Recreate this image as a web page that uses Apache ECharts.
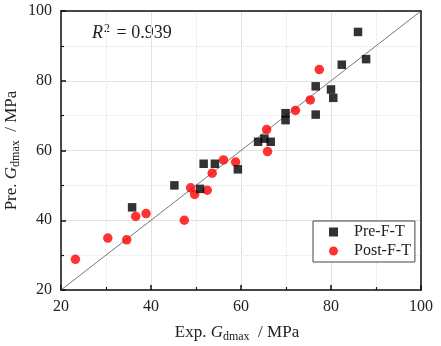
<!DOCTYPE html>
<html><head><meta charset="utf-8">
<script src="https://cdn.jsdelivr.net/npm/echarts@6/dist/echarts.min.js"></script>
<style>html,body{margin:0;padding:0;background:#fff}#c{width:441px;height:346px}</style>
</head><body><div id="c"></div>
<script>
const preX = [86.0, 87.8, 82.4, 76.6, 80.0, 80.5, 76.6, 69.9, 69.9, 63.8, 65.2, 66.6, 51.7, 54.2, 59.3, 45.2, 50.9, 35.8];
const preY = [94.0, 86.2, 84.6, 78.4, 77.5, 75.1, 70.3, 70.7, 68.7, 62.5, 63.4, 62.5, 56.2, 56.2, 54.6, 50.0, 49.0, 43.7];
const postX = [77.4, 75.4, 72.1, 65.7, 65.9, 56.1, 58.8, 53.6, 48.8, 49.7, 52.5, 47.4, 38.9, 36.6, 30.4, 34.6, 23.2];
const postY = [83.2, 74.5, 71.5, 66.0, 59.7, 57.3, 56.7, 53.5, 49.3, 47.4, 48.6, 40.0, 41.9, 41.1, 34.9, 34.4, 28.8];
const diagX = [20, 100];
const diagY = [20, 100];
const xTicks = [20, 40, 60, 80, 100];
const yTicks = [20, 40, 60, 80, 100];
const seriesNames = ['Pre-F-T', 'Post-F-T'];
const r2Text = '0.939';

const font = 'Liberation Serif';
const zip = (a, b) => a.map((v, i) => [v, b[i]]);
const chart = echarts.init(document.getElementById('c'), null, {renderer: 'canvas'});
const axisCommon = {
  type: 'value', min: xTicks[0], max: xTicks[xTicks.length - 1], interval: 20,
  axisLine: {show: true, lineStyle: {color: '#111', width: 1.5}},
  axisTick: {show: true, inside: true, length: 5, lineStyle: {color: '#111', width: 1.5}},
  minorTick: {show: true, splitNumber: 2, length: 3, lineStyle: {color: '#111', width: 1.2}},
  splitLine: {show: true, lineStyle: {color: '#e2e2e2', width: 1}},
  minorSplitLine: {show: true, lineStyle: {color: '#e2e2e2', width: 1, type: 'dotted'}},
  axisLabel: {fontFamily: font, fontSize: 16, color: '#222', margin: 9}
};
const boxAxis = {
  type: 'value', min: 20, max: 100,
  axisLine: {show: true, lineStyle: {color: '#111', width: 1.5}},
  axisTick: {show: false}, axisLabel: {show: false}, splitLine: {show: false}
};
const nameRich = {
  n: {fontFamily: font, fontSize: 17, color: '#222'},
  g: {fontFamily: font, fontSize: 17, fontStyle: 'italic', color: '#222'},
  s: {fontFamily: font, fontSize: 12, color: '#222', verticalAlign: 'bottom', padding: [8, 0, 0, 0]}
};
chart.setOption({
  animation: false,
  grid: {left: 61, right: 20, top: 11, bottom: 56, containLabel: false, outerBoundsMode: 'none'},
  xAxis: [
    Object.assign({}, axisCommon, {
      position: 'bottom',
      name: '{n|Exp. }{g|G}{s|dmax}{n|  / MPa}', nameLocation: 'middle', nameGap: 33, nameMoveOverlap: false,
      nameTextStyle: {rich: nameRich, padding: [0, 8, 0, 0]}
    }),
    Object.assign({}, boxAxis, {position: 'top'})
  ],
  yAxis: [
    Object.assign({}, axisCommon, {
      min: yTicks[0], max: yTicks[yTicks.length - 1],
      position: 'left',
      name: '{n|Pre. }{g|G}{s|dmax}{n|  / MPa}', nameLocation: 'middle', nameGap: 39, nameRotate: 90, nameMoveOverlap: false,
      nameTextStyle: {rich: nameRich}
    }),
    Object.assign({}, boxAxis, {position: 'right'})
  ],
  legend: {
    orient: 'vertical', left: 313, top: 221,
    backgroundColor: '#fff', borderColor: '#444', borderWidth: 1,
    padding: [3, 4, 3, 16], itemGap: 3, itemWidth: 9, itemHeight: 9,
    textStyle: {fontFamily: font, fontSize: 16, color: '#222', padding: [0, 0, 0, 11]},
    data: [{name: seriesNames[0], icon: 'rect'}, {name: seriesNames[1], icon: 'circle'}]
  },
  graphic: [{
    type: 'text', left: 92, top: 23,
    style: {
      text: '{r|R}{p|2}{n| = ' + r2Text + '}',
      rich: {
        r: {fontFamily: font, fontSize: 18, fontStyle: 'italic', fill: '#222'},
        p: {fontFamily: font, fontSize: 12, fill: '#222', verticalAlign: 'top', padding: [0, 2, 8, 1]},
        n: {fontFamily: font, fontSize: 18, fill: '#222'}
      }
    }
  }],
  series: [
    {
      type: 'line', data: zip(diagX, diagY), symbol: 'none', silent: true,
      lineStyle: {color: '#555', width: 0.8}, z: 1
    },
    {
      name: seriesNames[0], type: 'scatter', symbol: 'rect', symbolSize: 8.5,
      itemStyle: {color: '#000'}, data: zip(preX, preY), z: 3
    },
    {
      name: seriesNames[1], type: 'scatter', symbol: 'circle', symbolSize: 9.5,
      itemStyle: {color: '#ff0000'}, data: zip(postX, postY), z: 2
    }
  ]
});
</script></body></html>
